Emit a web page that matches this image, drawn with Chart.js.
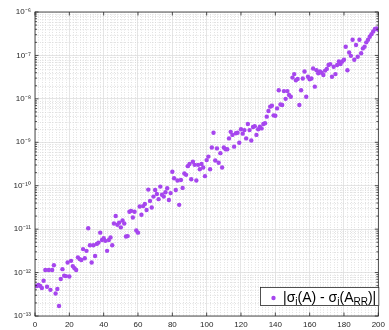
<!DOCTYPE html>
<html><head><meta charset="utf-8">
<script src="https://cdn.jsdelivr.net/npm/chart.js@4"></script>
<style>html,body{margin:0;padding:0;background:#fff}#wrap{width:389px;height:330px;position:relative}</style>
</head><body><div id="wrap"><canvas id="c"></canvas></div>
<script>
// |sigma_i(A) - sigma_i(A_RR)| for i = 1..200
const errors = [
 4.9e-13,5.2e-13,4.9e-13,4.4e-13,6.5e-13,1.15e-12,4.7e-13,1.15e-12,4.0e-13,1.15e-12,
 1.48e-12,3.3e-13,4.2e-13,1.7e-13,7.1e-13,1.2e-12,8.5e-13,8.3e-13,1.7e-12,8.1e-13,
 1.86e-12,1.41e-12,1.26e-12,1.15e-12,2.24e-12,2.04e-12,1.95e-12,3.47e-12,2.14e-12,3.16e-12,
 1.05e-11,4.27e-12,1.7e-12,4.27e-12,2.4e-12,4.57e-12,4.9e-12,8.3e-12,5.62e-12,6.17e-12,
 5.37e-12,3.16e-12,5.62e-12,6.46e-12,4.27e-12,1.35e-11,2.0e-11,1.26e-11,1.41e-11,1.1e-11,
 1.58e-11,1.35e-11,6.76e-12,6.92e-12,2.51e-11,2.63e-11,1.86e-11,2.51e-11,9.33e-12,8.3e-12,
 3.31e-11,2.14e-11,3.39e-11,3.8e-11,2.75e-11,8.13e-11,4.47e-11,3.16e-11,5.62e-11,7.94e-11,
 6.46e-11,4.9e-11,9.55e-11,6.17e-11,5.62e-11,7.08e-11,8.71e-11,4.68e-11,6.76e-11,2.09e-10,
 1.48e-10,7.94e-11,1.32e-10,3.63e-11,1.35e-10,8.91e-11,1.91e-10,1.78e-10,2.82e-10,3.16e-10,
 1.41e-10,3.55e-10,3.02e-10,1.32e-10,3.02e-10,2.4e-10,3.16e-10,2.63e-10,1.66e-10,3.89e-10,
 4.68e-10,2.4e-10,7.59e-10,1.66e-9,3.8e-10,7.24e-10,3.39e-10,5.62e-10,2.63e-10,7.59e-10,
 6.92e-10,6.92e-10,1.23e-9,1.74e-9,1.48e-9,7.94e-10,1.62e-9,1.66e-9,9.77e-10,2.0e-9,
 1.58e-9,1.91e-9,1.23e-9,2.63e-9,1.91e-9,1.1e-9,2.24e-9,2.34e-9,1.48e-9,2.0e-9,
 2.29e-9,2.09e-9,2.63e-9,2.75e-9,3.89e-9,5.25e-9,6.61e-9,6.92e-9,4.17e-9,4.07e-9,
 6.03e-9,1.58e-8,7.41e-9,7.24e-9,1.51e-8,1.0e-8,1.51e-8,1.23e-8,1.12e-8,3.09e-8,
 3.72e-8,2.69e-8,2.88e-8,7.24e-9,1.58e-8,2.95e-8,4.27e-8,1.12e-8,3.24e-8,2.82e-8,
 2.95e-8,5.01e-8,1.91e-8,4.57e-8,3.89e-8,4.27e-8,3.98e-8,3.55e-8,4.47e-8,4.9e-8,
 6.03e-8,6.31e-8,3.24e-8,5.5e-8,3.72e-8,6.03e-8,7.24e-8,6.31e-8,7.24e-8,7.94e-8,
 1.58e-7,4.57e-8,1.17e-7,9.77e-8,2.29e-7,7.94e-8,1.74e-7,9.33e-8,2.29e-7,1.12e-7,
 1.45e-7,1.58e-7,2.0e-7,2.29e-7,2.69e-7,3.09e-7,3.55e-7,4.07e-7,4.17e-7,3.89e-7
];
const indices = errors.map((_, k) => k + 1);
const xTickValues = [0, 20, 40, 60, 80, 100, 120, 140, 160, 180, 200];
const yTickValues = [1e-13, 1e-12, 1e-11, 1e-10, 1e-9, 1e-8, 1e-7, 1e-6];
const yTickLabels = ['10\u207B\u00B9\u00B3','10\u207B\u00B9\u00B2','10\u207B\u00B9\u00B9','10\u207B\u00B9\u2070','10\u207B\u2079','10\u207B\u2078','10\u207B\u2077','10\u207B\u2076'];
const legendParts = [
  {t: '|\u03C3', sub: false}, {t: 'i', sub: true}, {t: '(A) - \u03C3', sub: false},
  {t: 'i', sub: true}, {t: '(A', sub: false}, {t: 'RR', sub: true}, {t: ')|', sub: false}
];

const INK = '#262626';
const POINT = '#a646ee';
const FONT = '"Liberation Sans", Arial, Helvetica, sans-serif';

const matlabAxes = {
  id: 'matlabAxes',
  beforeDatasetsDraw(chart) {
    const {ctx, chartArea: a, scales: {x, y}} = chart;
    ctx.save();
    ctx.strokeStyle = '#d6d6d6';
    ctx.lineWidth = 0.7;
    ctx.setLineDash([1, 1.5]);
    ctx.beginPath();
    for (let v = 2; v < 200; v += 2) {
      if (v % 20 === 0) continue;
      const px = Math.round(x.getPixelForValue(v)) + 0.5;
      ctx.moveTo(px, a.top); ctx.lineTo(px, a.bottom);
    }
    for (let d = 0; d < yTickValues.length - 1; d++) {
      for (let k = 2; k <= 9; k++) {
        const py = Math.round(y.getPixelForValue(yTickValues[d] * k)) + 0.5;
        ctx.moveTo(a.left, py); ctx.lineTo(a.right, py);
      }
    }
    ctx.stroke();
    ctx.restore();
  },
  afterDatasetsDraw(chart) {
    const {ctx, chartArea: a, scales: {x, y}} = chart;
    ctx.save();
    ctx.strokeStyle = INK;
    ctx.lineWidth = 0.8;
    ctx.beginPath();
    xTickValues.forEach(v => {
      const px = x.getPixelForValue(v);
      ctx.moveTo(px, a.bottom); ctx.lineTo(px, a.bottom - 3.5);
      ctx.moveTo(px, a.top); ctx.lineTo(px, a.top + 3.5);
    });
    yTickValues.forEach((v, d) => {
      const py = y.getPixelForValue(v);
      ctx.moveTo(a.left, py); ctx.lineTo(a.left + 3.5, py);
      ctx.moveTo(a.right, py); ctx.lineTo(a.right - 3.5, py);
      if (d < yTickValues.length - 1) {
        for (let k = 2; k <= 9; k++) {
          const pm = y.getPixelForValue(v * k);
          ctx.moveTo(a.left, pm); ctx.lineTo(a.left + 2, pm);
          ctx.moveTo(a.right, pm); ctx.lineTo(a.right - 2, pm);
        }
      }
    });
    ctx.stroke();
    ctx.strokeRect(a.left, a.top, a.right - a.left, a.bottom - a.top);
    ctx.restore();
  },
  afterDraw(chart) {
    const {ctx, chartArea: a} = chart;
    const bx = a.left + 225, by = a.bottom - 29, bw = a.right + 1 - bx, bh = 19;
    ctx.save();
    ctx.fillStyle = '#fff';
    ctx.fillRect(bx, by, bw, bh);
    ctx.strokeStyle = INK;
    ctx.lineWidth = 0.8;
    ctx.strokeRect(bx + 0.5, by + 0.5, bw - 1, bh - 1);
    ctx.fillStyle = POINT;
    ctx.beginPath();
    ctx.arc(bx + 13.5, by + 11, 2.2, 0, Math.PI * 2);
    ctx.fill();
    ctx.fillStyle = '#000';
    ctx.textBaseline = 'alphabetic';
    let tx = bx + 23;
    const base = by + 14.5;
    legendParts.forEach(p => {
      ctx.font = (p.sub ? '10px ' : '14px ') + FONT;
      ctx.fillText(p.t, tx, p.sub ? base + 3 : base);
      tx += ctx.measureText(p.t).width;
    });
    ctx.restore();
  }
};

new Chart(document.getElementById('c'), {
  type: 'scatter',
  data: {
    datasets: [{
      label: '|\u03C3i(A) - \u03C3i(ARR)|',
      data: indices.map((xi, k) => ({x: xi, y: errors[k]})),
      backgroundColor: POINT,
      borderWidth: 0,
      pointRadius: 2.2,
      pointHoverRadius: 2.2
    }]
  },
  plugins: [matlabAxes],
  options: {
    responsive: true,
    maintainAspectRatio: false,
    animation: false,
    devicePixelRatio: 1,
    layout: {padding: {top: 12, right: 7, left: 0, bottom: 0}},
    plugins: {legend: {display: false}, tooltip: {enabled: false}},
    scales: {
      x: {
        type: 'linear', min: 0, max: 200,
        afterBuildTicks: s => { s.ticks = xTickValues.map(v => ({value: v})); },
        afterFit: s => { s.height = 14; },
        ticks: {color: INK, font: {family: FONT, size: 8}, padding: 4, maxRotation: 0, autoSkip: false},
        grid: {color: '#dedede', lineWidth: 0.8, drawTicks: false},
        border: {display: false}
      },
      y: {
        type: 'logarithmic', min: 1e-13, max: 1e-6,
        afterBuildTicks: s => { s.ticks = yTickValues.map(v => ({value: v})); },
        afterFit: s => { s.width = 35; },
        ticks: {color: INK, font: {family: FONT, size: 8}, padding: 4, autoSkip: false,
                callback: (v, i) => yTickLabels[i]},
        grid: {color: '#dedede', lineWidth: 0.8, drawTicks: false},
        border: {display: false}
      }
    }
  }
});
</script>
</body></html>
